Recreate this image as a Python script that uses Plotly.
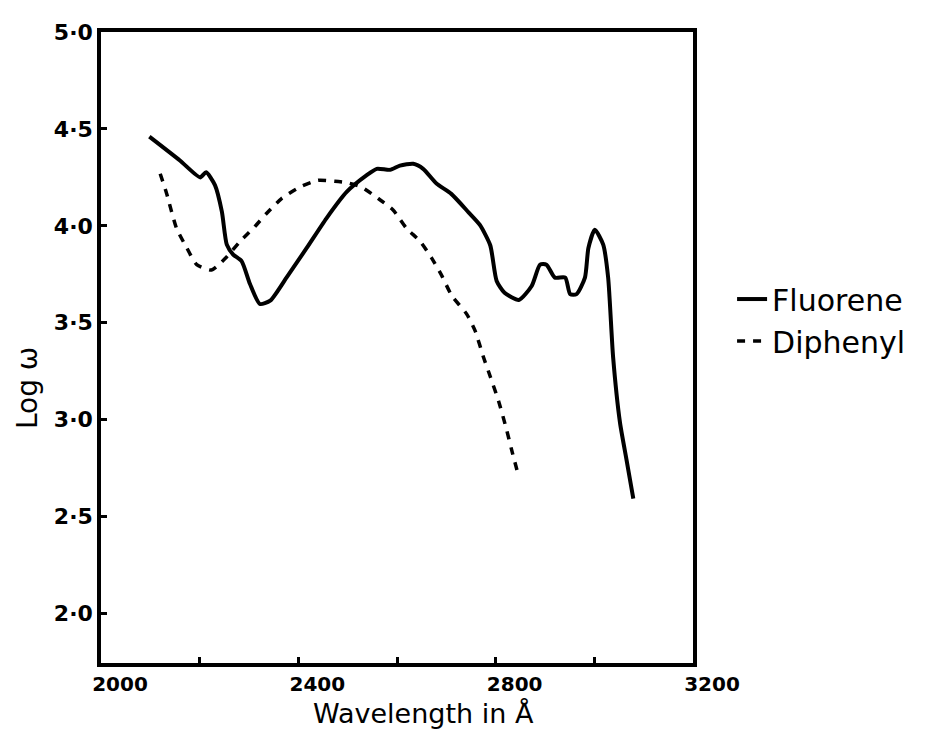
import plotly.graph_objects as go

# Fluorene (solid)
fluorene_wl = [2098, 2160, 2201, 2213, 2231, 2245, 2255, 2268, 2285, 2302, 2322, 2343,
               2376, 2417, 2457, 2498, 2538, 2559, 2586, 2606, 2633, 2653, 2680, 2710,
               2745, 2768, 2789, 2802, 2818, 2847, 2873, 2890, 2903, 2920, 2941, 2951,
               2964, 2981, 2988, 3001, 3018, 3028, 3038, 3052, 3065, 3079]
fluorene_log = [4.46, 4.337, 4.25, 4.276, 4.21, 4.073, 3.903, 3.852, 3.818, 3.70, 3.597, 3.614,
                3.733, 3.886, 4.039, 4.175, 4.26, 4.294, 4.289, 4.311, 4.32, 4.294, 4.218, 4.165,
                4.07, 4.005, 3.90, 3.716, 3.655, 3.618, 3.69, 3.80, 3.80, 3.733, 3.733, 3.648,
                3.648, 3.733, 3.886, 3.98, 3.903, 3.733, 3.325, 2.985, 2.797, 2.593]

# Diphenyl (dashed)
diphenyl_wl = [2120, 2133, 2153, 2174, 2194, 2224, 2251, 2282, 2312, 2336, 2366, 2403,
               2440, 2474, 2500, 2528, 2562, 2592, 2619, 2647, 2670, 2691, 2711, 2741,
               2758, 2775, 2789, 2806, 2822, 2832, 2846]
diphenyl_log = [4.269, 4.167, 3.988, 3.886, 3.80, 3.772, 3.83, 3.92, 3.997, 4.065, 4.141, 4.20,
                4.235, 4.23, 4.222, 4.20, 4.141, 4.082, 3.988, 3.92, 3.835, 3.742, 3.64, 3.546,
                3.461, 3.325, 3.223, 3.095, 2.95, 2.848, 2.713]

x_tickvals = [2000, 2200, 2400, 2600, 2800, 3000, 3200]
x_ticktext = ["<b>2000</b>", "", "<b>2400</b>", "", "<b>2800</b>", "", "<b>3200</b>"]
y_tickvals = [2.0, 2.5, 3.0, 3.5, 4.0, 4.5, 5.0]
y_ticktext = ["<b>2·0</b>", "<b>2·5</b>", "<b>3·0</b>", "<b>3·5</b>",
              "<b>4·0</b>", "<b>4·5</b>", "<b>5·0</b>"]

FONT = "DejaVu Sans"

fig = go.Figure()
fig.add_trace(go.Scatter(x=fluorene_wl, y=fluorene_log, mode="lines", name="Fluorene",
                         line=dict(color="black", width=4, shape="spline", smoothing=0.6)))
fig.add_trace(go.Scatter(x=diphenyl_wl, y=diphenyl_log, mode="lines", name="Diphenyl",
                         line=dict(color="black", width=3.5, dash="8px,8px", shape="spline",
                                   smoothing=0.6)))

# page body has an 8px margin, so the figure is 8px smaller and margins shifted
fig.update_layout(
    width=929, height=729,
    margin=dict(l=93, r=244, t=17, b=74),
    paper_bgcolor="white", plot_bgcolor="white",
    font=dict(family=FONT, color="black"),
    showlegend=True,
    legend=dict(x=1.066, y=0.618, xanchor="left", yanchor="top",
                font=dict(size=30, family=FONT, color="black"),
                bgcolor="rgba(0,0,0,0)", itemwidth=30),
    xaxis=dict(range=[2000, 3200], tickvals=x_tickvals, ticktext=x_ticktext,
               ticks="inside", ticklen=6, tickwidth=2.5, tickcolor="black",
               showline=True, linewidth=3.5, linecolor="black", mirror=True,
               showgrid=False, zeroline=False,
               tickfont=dict(size=20, family=FONT, color="black"),
               ticklabelshift=19),
    yaxis=dict(range=[1.745, 5.0], tickvals=y_tickvals, ticktext=y_ticktext,
               ticks="inside", ticklen=6, tickwidth=2.5, tickcolor="black",
               showline=True, linewidth=3.5, linecolor="black", mirror=True,
               showgrid=False, zeroline=False,
               tickfont=dict(size=22, family=FONT, color="black")),
    annotations=[
        dict(text="Log ω", xref="paper", yref="paper",
             x=(27 - 101) / 592, y=(663 - 385) / 638,
             xanchor="center", yanchor="middle", textangle=-90,
             showarrow=False, font=dict(size=28, family=FONT, color="black")),
        dict(text="Wavelength in Å", xref="paper", yref="paper",
             x=(423 - 101) / 592, y=(663 - 714) / 638,
             xanchor="center", yanchor="middle",
             showarrow=False, font=dict(size=27, family=FONT, color="black")),
    ],
)

fig.write_html("out.html")
